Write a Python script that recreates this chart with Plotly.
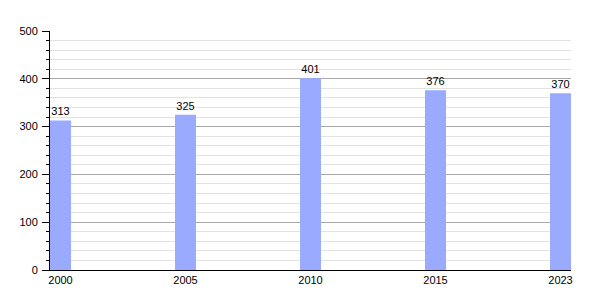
import plotly.graph_objects as go

years = ["2000", "2005", "2010", "2015", "2023"]
values = [313, 325, 401, 376, 370]
y_ticks = [0, 100, 200, 300, 400, 500]

x_pos = list(range(len(years)))

fig = go.Figure(go.Bar(
    x=x_pos, y=values, width=0.168,
    marker=dict(color="#99aaff", line=dict(width=0)),
    text=[str(v) for v in values], textposition="outside",
    textfont=dict(family="Liberation Sans, Arial", size=11, color="black"),
    cliponaxis=False,
))

fig.update_layout(
    width=600, height=300,
    margin=dict(l=50, r=29, t=31, b=30),
    paper_bgcolor="white", plot_bgcolor="white",
    showlegend=False,
    font=dict(family="Liberation Sans, Arial", size=11, color="black"),
    xaxis=dict(
        range=[-0.084, len(years) - 1 + 0.084],
        tickvals=x_pos, ticktext=years,
        showgrid=False, zeroline=False,
        showline=True, linecolor="black", linewidth=1,
        ticks="", ticklen=0,
    ),
    yaxis=dict(
        range=[0, 500], tickvals=y_ticks,
        showgrid=True, gridcolor="#a8a8a8", gridwidth=1,
        zeroline=False,
        showline=True, linecolor="black", linewidth=1,
        ticks="outside", ticklen=7, tickcolor="black", tickwidth=1,
        ticklabelstandoff=2,
        minor=dict(dtick=20, ticks="outside", ticklen=3, tickcolor="black",
                   showgrid=True, gridcolor="#e2e2e2", gridwidth=1),
    ),
)

fig.write_html("out.html")
